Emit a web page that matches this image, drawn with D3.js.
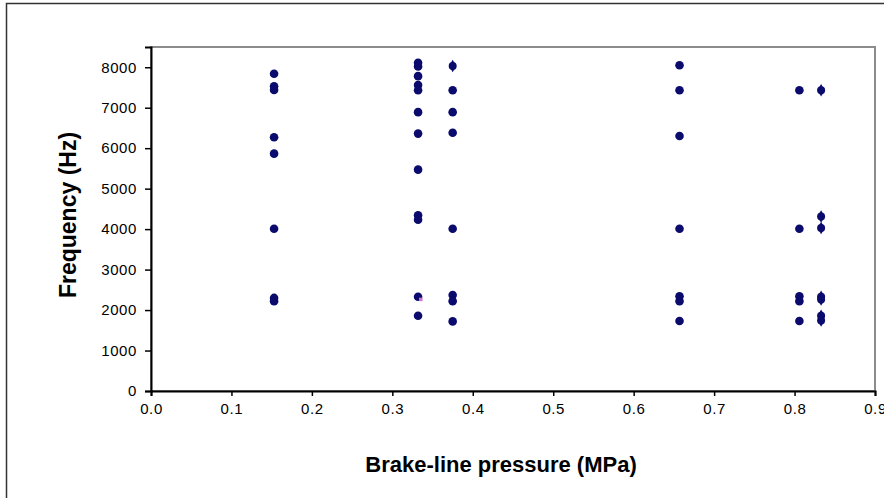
<!DOCTYPE html>
<html>
<head>
<meta charset="utf-8">
<script src="https://cdn.jsdelivr.net/npm/d3@7/dist/d3.min.js"></script>
<style>
  html, body { margin: 0; padding: 0; background: #fff; }
  svg { display: block; }
</style>
</head>
<body>
<svg id="chart" width="884" height="498"></svg>
<script>
// ---- data ----
const circleX = [
  0.153, 0.153, 0.153, 0.153, 0.153, 0.153, 0.153, 0.153,
  0.332, 0.332, 0.332, 0.332, 0.332, 0.332, 0.332, 0.332, 0.332, 0.332, 0.332, 0.332,
  0.375, 0.375, 0.375, 0.375, 0.375, 0.375, 0.375,
  0.657, 0.657, 0.657, 0.657, 0.657, 0.657, 0.657,
  0.806, 0.806, 0.806, 0.806, 0.806
];
const circleY = [
  7840, 7530, 7440, 6270, 5865, 4010, 2300, 2220,
  8110, 8020, 7780, 7560, 7430, 6890, 6360, 5470, 4340, 4230, 2330, 1860,
  7430, 6890, 6380, 4010, 2370, 2220, 1720,
  8050, 7430, 6300, 4010, 2340, 2220, 1730,
  7430, 4010, 2340, 2220, 1730
];
const diamondX = [0.375, 0.833, 0.833, 0.833, 0.833, 0.833, 0.833, 0.833];
const diamondY = [8030, 7430, 4310, 4030, 2330, 2260, 1860, 1740];
const pinkX = [0.335];
const pinkY = [2270];

const xTicks = [0, 0.1, 0.2, 0.3, 0.4, 0.5, 0.6, 0.7, 0.8, 0.9];
const yTicks = [0, 1000, 2000, 3000, 4000, 5000, 6000, 7000, 8000];
const xTitle = "Brake-line pressure (MPa)";
const yTitle = "Frequency (Hz)";

// ---- layout ----
const svg = d3.select("#chart");
const plot = { left: 151, top: 47, right: 875, bottom: 391 };
const navy = "#0b0b6e";

const x = d3.scaleLinear().domain([0, 0.9]).range([plot.left, plot.right]);
const y = d3.scaleLinear().domain([0, 8500]).range([plot.bottom, plot.top]);

// outer chart frame
svg.append("rect")
  .attr("x", 6.5).attr("y", 3.5)
  .attr("width", 900).attr("height", 520)
  .attr("fill", "#fff").attr("stroke", "#333").attr("stroke-width", 1.5);

// plot area border (gray top/right)
svg.append("rect")
  .attr("x", plot.left).attr("y", plot.top)
  .attr("width", plot.right - plot.left).attr("height", plot.bottom - plot.top)
  .attr("fill", "#fff").attr("stroke", "#8c8c8c").attr("stroke-width", 2);

// axes
const fontTicks = "Arial, 'Liberation Sans', sans-serif";
const xAxis = d3.axisBottom(x).tickValues(xTicks).tickFormat(d3.format(".1f")).tickSize(5).tickPadding(13);
const yAxis = d3.axisLeft(y).tickValues(yTicks).tickFormat(d3.format("d")).tickSize(6).tickPadding(8);

const gx = svg.append("g").attr("transform", `translate(0,${plot.bottom})`).call(xAxis);
const gy = svg.append("g").attr("transform", `translate(${plot.left},0)`).call(yAxis);

[gx, gy].forEach(g => {
  g.select(".domain").attr("stroke", "#000").attr("stroke-width", 2);
  g.selectAll(".tick line").attr("stroke", "#000").attr("stroke-width", 1.5);
  g.selectAll(".tick text")
    .attr("fill", "#000")
    .style("font-family", fontTicks)
    .style("font-size", "15px")
    .style("letter-spacing", "0.6px");
});
gx.selectAll(".tick text").attr("dy", "0.35em");

// axis titles
svg.append("text")
  .attr("x", (plot.left + plot.right) / 2 - 12)
  .attr("y", 472)
  .attr("text-anchor", "middle")
  .style("font-family", fontTicks)
  .style("font-weight", "bold")
  .style("font-size", "22px")
  .attr("fill", "#000")
  .text(xTitle);

svg.append("text")
  .attr("transform", `translate(76,${215}) rotate(-90)`)
  .attr("text-anchor", "middle")
  .style("font-family", fontTicks)
  .style("font-weight", "bold")
  .style("font-size", "23px")
  .attr("fill", "#000")
  .text(yTitle);

// markers
const circles = circleX.map((v, i) => ({ x: v, y: circleY[i] }));
const diamonds = diamondX.map((v, i) => ({ x: v, y: diamondY[i] }));
const pinks = pinkX.map((v, i) => ({ x: v, y: pinkY[i] }));

svg.append("g").selectAll("circle").data(circles).join("circle")
  .attr("cx", d => x(d.x)).attr("cy", d => y(d.y)).attr("r", 4.3)
  .attr("fill", navy);

svg.append("g").selectAll("path").data(diamonds).join("path")
  .attr("transform", d => `translate(${x(d.x)},${y(d.y)})`)
  .attr("d", d3.symbol().type(d3.symbolDiamond).size(45))
  .attr("fill", navy);
svg.append("g").selectAll("circle").data(diamonds).join("circle")
  .attr("cx", d => x(d.x)).attr("cy", d => y(d.y)).attr("r", 4)
  .attr("fill", navy);

svg.append("g").selectAll("rect").data(pinks).join("rect")
  .attr("x", d => x(d.x) - 1.5).attr("y", d => y(d.y) - 1.5)
  .attr("width", 3.5).attr("height", 3.5)
  .attr("fill", "#d070c8");
</script>
</body>
</html>
